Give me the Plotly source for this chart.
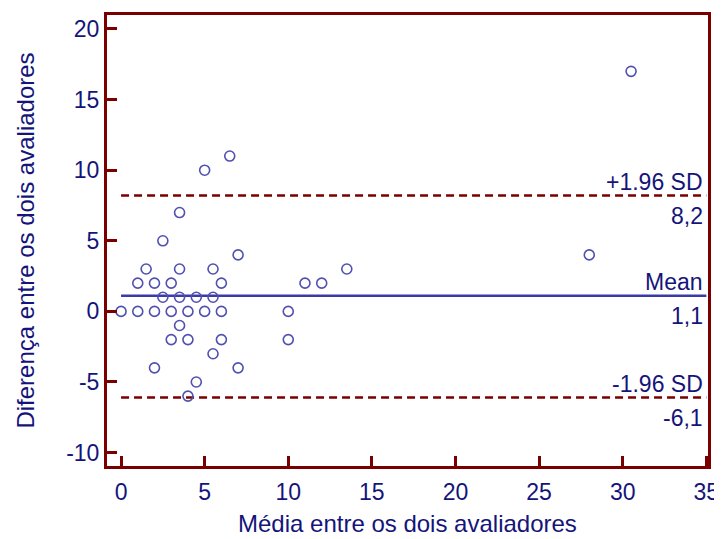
import plotly.graph_objects as go

# Data: (mean of raters, difference between raters)
media = [6.5, 5, 3.5, 2.5, 7, 1.5, 3.5, 5.5, 1, 2, 3, 6,
         2.5, 3.5, 4.5, 5.5, 0, 1, 2, 3, 4, 5, 6,
         3.5, 3, 4, 6, 5.5, 2, 7, 4.5, 4,
         11, 12, 13.5, 10, 10, 30.5, 28]
diferenca = [11, 10, 7, 5, 4, 3, 3, 3, 2, 2, 2, 2,
             1, 1, 1, 1, 0, 0, 0, 0, 0, 0, 0,
             -1, -2, -2, -2, -3, -4, -4, -5, -6,
             2, 2, 3, 0, -2, 17, 4]

mean_val = 1.1
upper_val = 8.2
lower_val = -6.1
line_x = [0, 35]

x_ticks = [0, 5, 10, 15, 20, 25, 30, 35]
x_ticktext = ["0", "5", "10", "15", "20", "25", "30", "35"]
y_ticks = [-10, -5, 0, 5, 10, 15, 20]
y_ticktext = ["-10", "-5", "0", "5", "10", "15", "20"]

x_title = "Média entre os dois avaliadores"
y_title = "Diferença entre os dois avaliadores"

navy = "#14147a"
dred = "#7a0000"
blue = "#3a3aa8"
font = "Liberation Sans, Arial, sans-serif"
fs = 23
fs_title = 24

fig = go.Figure()
fig.add_trace(go.Scatter(x=line_x, y=[upper_val, upper_val], mode="lines",
                         line=dict(color=dred, width=2.5, dash="8px,5px"), hoverinfo="skip"))
fig.add_trace(go.Scatter(x=line_x, y=[lower_val, lower_val], mode="lines",
                         line=dict(color=dred, width=2.5, dash="8px,5px"), hoverinfo="skip"))
fig.add_trace(go.Scatter(x=line_x, y=[mean_val, mean_val], mode="lines",
                         line=dict(color=blue, width=2.5), hoverinfo="skip"))
fig.add_trace(go.Scatter(x=media, y=diferenca, mode="markers",
                         marker=dict(symbol="circle-open", size=10, color="#5050b0",
                                     line=dict(width=1.6, color="#5050b0"))))

labels = [("+1.96 SD", "8,2", upper_val), ("Mean", "1,1", mean_val), ("-1.96 SD", "-6,1", lower_val)]
for above, below, yv in labels:
    fig.add_annotation(x=34.9, y=yv, text=above, showarrow=False, xanchor="right",
                       yanchor="bottom", yshift=-1, font=dict(size=fs, color=navy, family=font))
    fig.add_annotation(x=34.9, y=yv, text=below, showarrow=False, xanchor="right",
                       yanchor="top", yshift=-5, font=dict(size=fs, color=navy, family=font))

# x-axis title placed as an annotation for exact placement
fig.add_annotation(x=0.5, y=0, xref="paper", yref="paper", text=x_title, showarrow=False,
                   xanchor="center", yanchor="top", yshift=-42,
                   font=dict(size=fs_title, color=navy, family=font))

axis_common = dict(showline=True, linecolor=dred, linewidth=3, mirror=True,
                   ticks="inside", ticklen=10, tickwidth=3, tickcolor=dred,
                   showgrid=False, zeroline=False, automargin=False,
                   tickfont=dict(size=fs, color=navy, family=font))

fig.update_xaxes(range=[-0.84, 35.1], tickvals=x_ticks, ticktext=x_ticktext,
                 ticklabelstandoff=3, **axis_common)
fig.update_yaxes(range=[-10.95, 20.99], tickvals=y_ticks, ticktext=y_ticktext,
                 title=dict(text=y_title,
                            font=dict(size=fs_title, color=navy, family=font), standoff=25),
                 ticklabelstandoff=0, **axis_common)

# page body has an 8px margin, so the figure is offset by 8px
fig.update_layout(width=714, height=531, margin=dict(l=99, r=14, t=7, b=73),
                  plot_bgcolor="white", paper_bgcolor="white", showlegend=False)

fig.write_html("out.html")
